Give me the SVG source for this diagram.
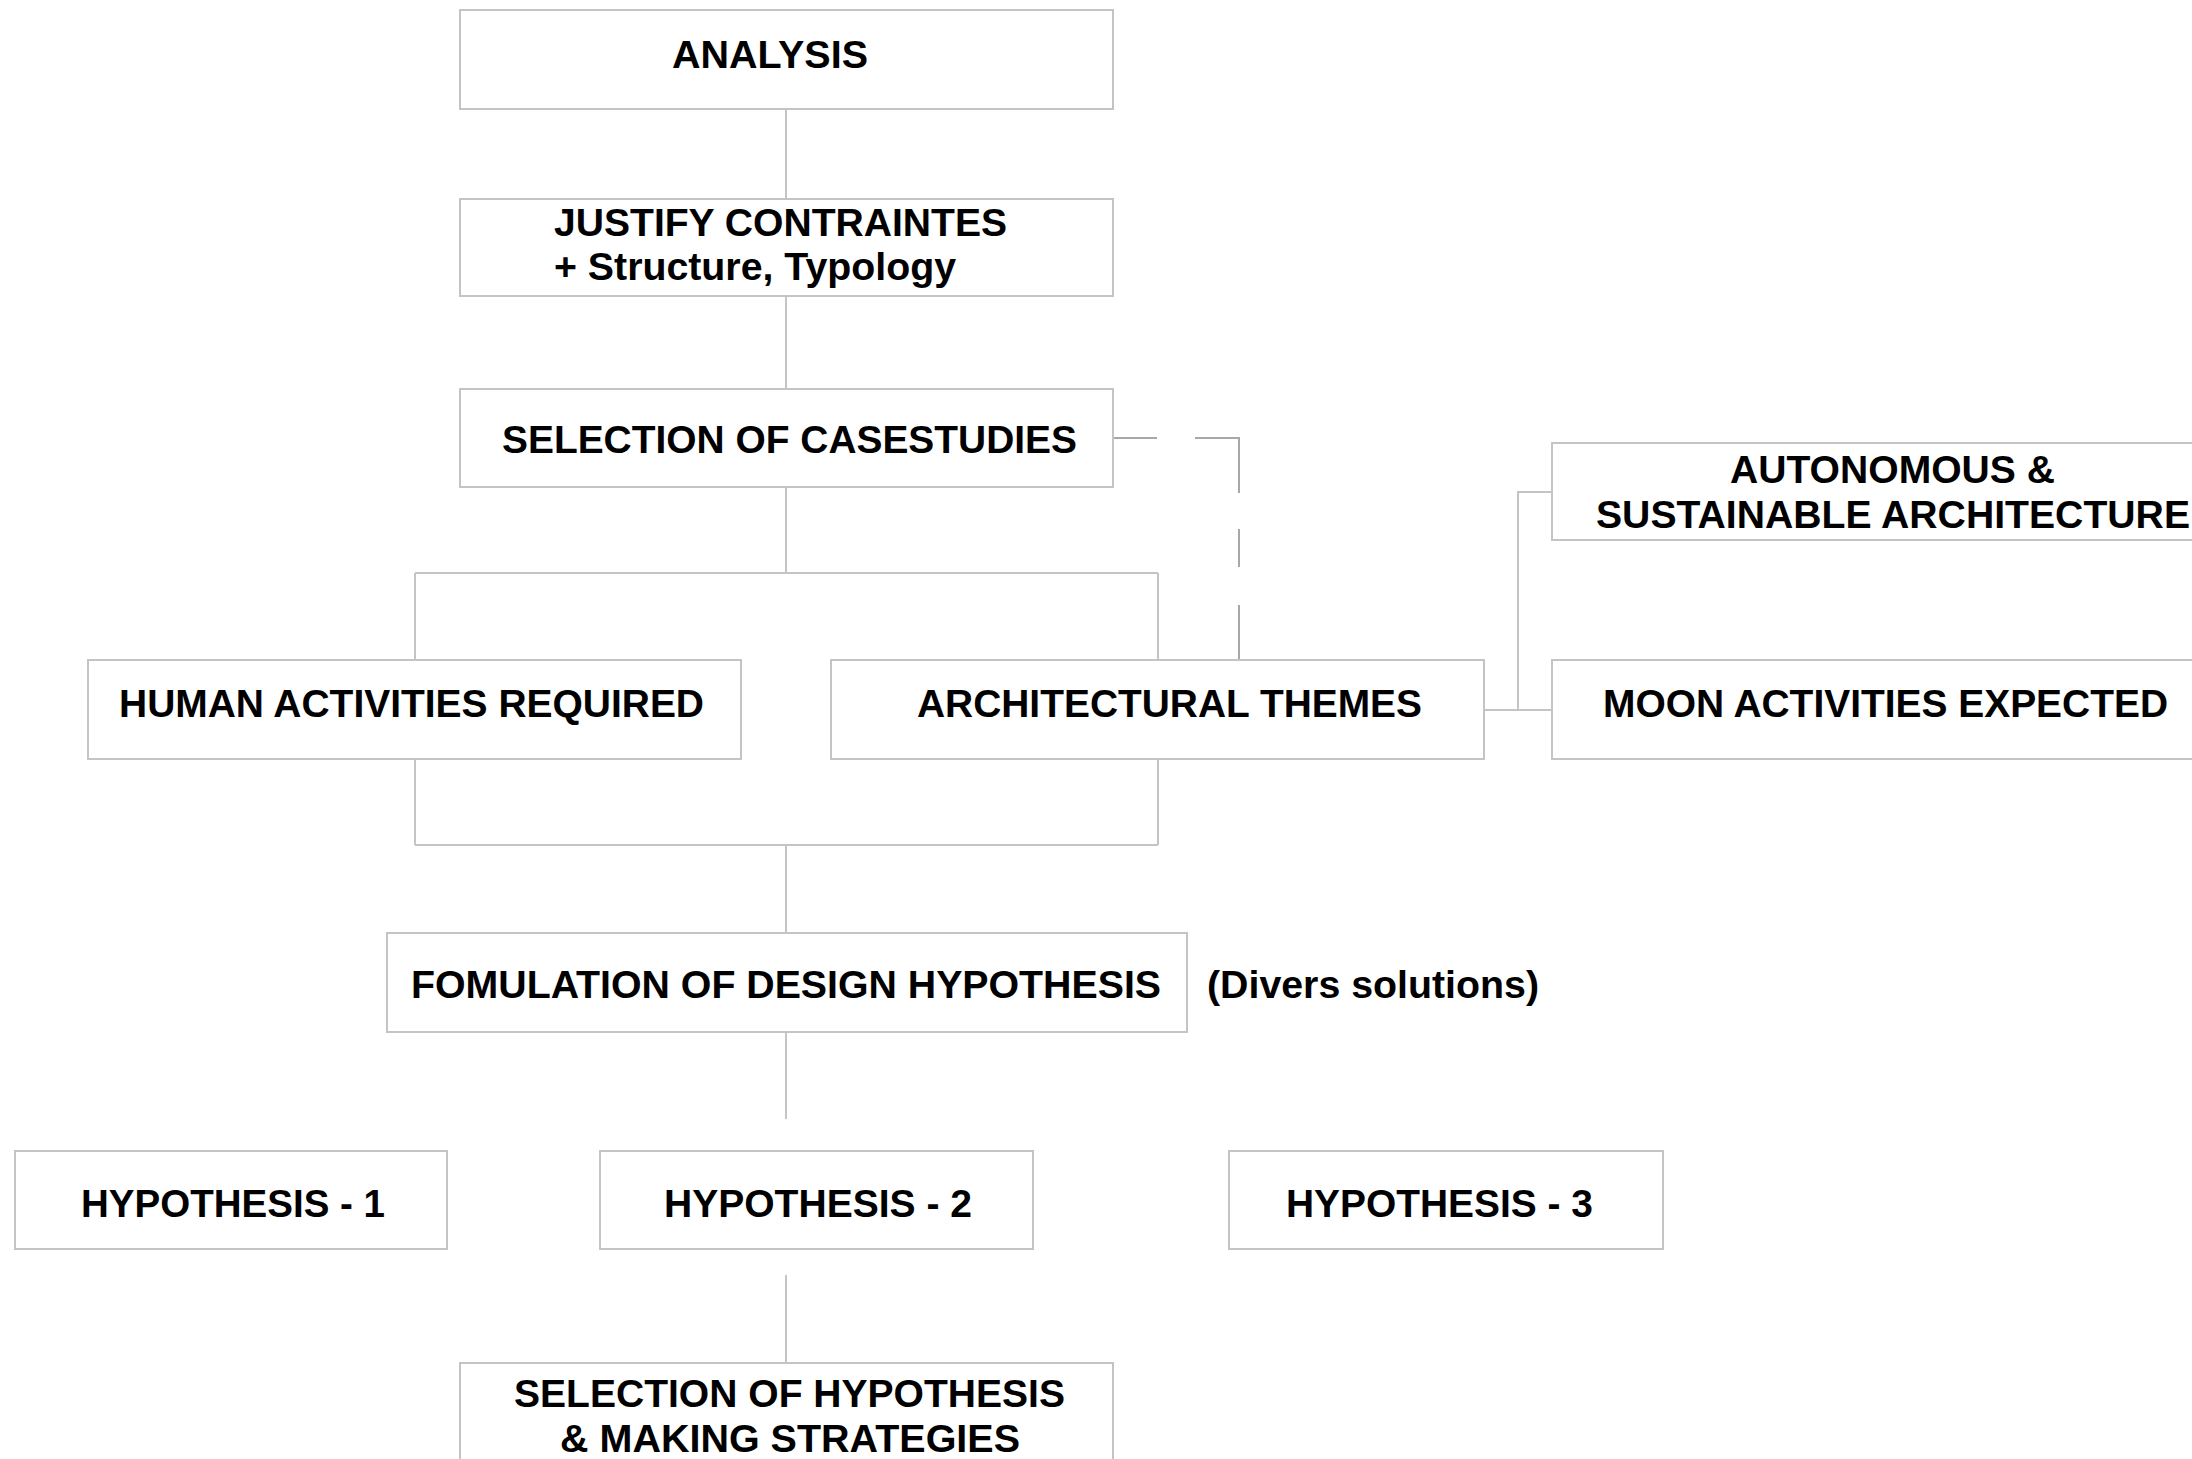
<svg xmlns="http://www.w3.org/2000/svg" width="2192" height="1459" viewBox="0 0 2192 1459">
<style>
.box{fill:#fff;stroke:#c4c4c4;stroke-width:2}
.t{font-family:"Liberation Sans",Arial,sans-serif;font-weight:bold;font-size:38px;fill:#000}
.c{fill:none;stroke:#c4c4c4;stroke-width:2}
.d{fill:none;stroke:#a8a8a8;stroke-width:2;stroke-dasharray:44 38 99 36 38 38 55 1000}
</style>
<rect width="2192" height="1459" fill="#fff"/>
<g id="connectors">
<path class="c" d="M786,109V199M786,296V389M786,487V573M415,573H1158M415,573V660M1158,573V660"/>
<path class="c" d="M415,759V845M1158,759V845M415,845H1158M786,845V933"/>
<path class="c" d="M786,1032V1119M786,1275V1363"/>
<path class="c" d="M1484,710H1552M1518,710V492H1552"/>
<path class="d" d="M1113,438H1239V660"/>
</g>
<g id="analysis"><rect class="box" x="460" y="10" width="653" height="99"/><text class="t" x="672" y="68" textLength="196" lengthAdjust="spacingAndGlyphs">ANALYSIS</text></g>
<g id="justify"><rect class="box" x="460" y="199" width="653" height="97"/><text class="t" x="554" y="236" textLength="453" lengthAdjust="spacingAndGlyphs">JUSTIFY CONTRAINTES</text><text class="t" x="554" y="280" textLength="402" lengthAdjust="spacingAndGlyphs">+ Structure, Typology</text></g>
<g id="casestudies"><rect class="box" x="460" y="389" width="653" height="98"/><text class="t" x="502" y="453" textLength="575" lengthAdjust="spacingAndGlyphs">SELECTION OF CASESTUDIES</text></g>
<g id="human"><rect class="box" x="88" y="660" width="653" height="99"/><text class="t" x="119" y="717" textLength="585" lengthAdjust="spacingAndGlyphs">HUMAN ACTIVITIES REQUIRED</text></g>
<g id="themes"><rect class="box" x="831" y="660" width="653" height="99"/><text class="t" x="917" y="717" textLength="505" lengthAdjust="spacingAndGlyphs">ARCHITECTURAL THEMES</text></g>
<g id="autonomous"><rect class="box" x="1552" y="443" width="660" height="97"/><text class="t" x="1730" y="483" textLength="325" lengthAdjust="spacingAndGlyphs">AUTONOMOUS &amp;</text><text class="t" x="1596" y="528" textLength="594" lengthAdjust="spacingAndGlyphs">SUSTAINABLE ARCHITECTURE</text></g>
<g id="moon"><rect class="box" x="1552" y="660" width="660" height="99"/><text class="t" x="1603" y="717" textLength="565" lengthAdjust="spacingAndGlyphs">MOON ACTIVITIES EXPECTED</text></g>
<g id="formulation"><rect class="box" x="387" y="933" width="800" height="99"/><text class="t" x="411" y="998" textLength="750" lengthAdjust="spacingAndGlyphs">FOMULATION OF DESIGN HYPOTHESIS</text></g>
<g id="divers"><text class="t" x="1207" y="998" textLength="332" lengthAdjust="spacingAndGlyphs">(Divers solutions)</text></g>
<g id="hyp1"><rect class="box" x="15" y="1151" width="432" height="98"/><text class="t" x="81" y="1217" textLength="304" lengthAdjust="spacingAndGlyphs">HYPOTHESIS - 1</text></g>
<g id="hyp2"><rect class="box" x="600" y="1151" width="433" height="98"/><text class="t" x="664" y="1217" textLength="308" lengthAdjust="spacingAndGlyphs">HYPOTHESIS - 2</text></g>
<g id="hyp3"><rect class="box" x="1229" y="1151" width="434" height="98"/><text class="t" x="1286" y="1217" textLength="307" lengthAdjust="spacingAndGlyphs">HYPOTHESIS - 3</text></g>
<g id="selection-hyp"><rect class="box" x="460" y="1363" width="653" height="110"/><text class="t" x="514" y="1407" textLength="551" lengthAdjust="spacingAndGlyphs">SELECTION OF HYPOTHESIS</text><text class="t" x="560" y="1452" textLength="460" lengthAdjust="spacingAndGlyphs">&amp; MAKING STRATEGIES</text></g>
</svg>
